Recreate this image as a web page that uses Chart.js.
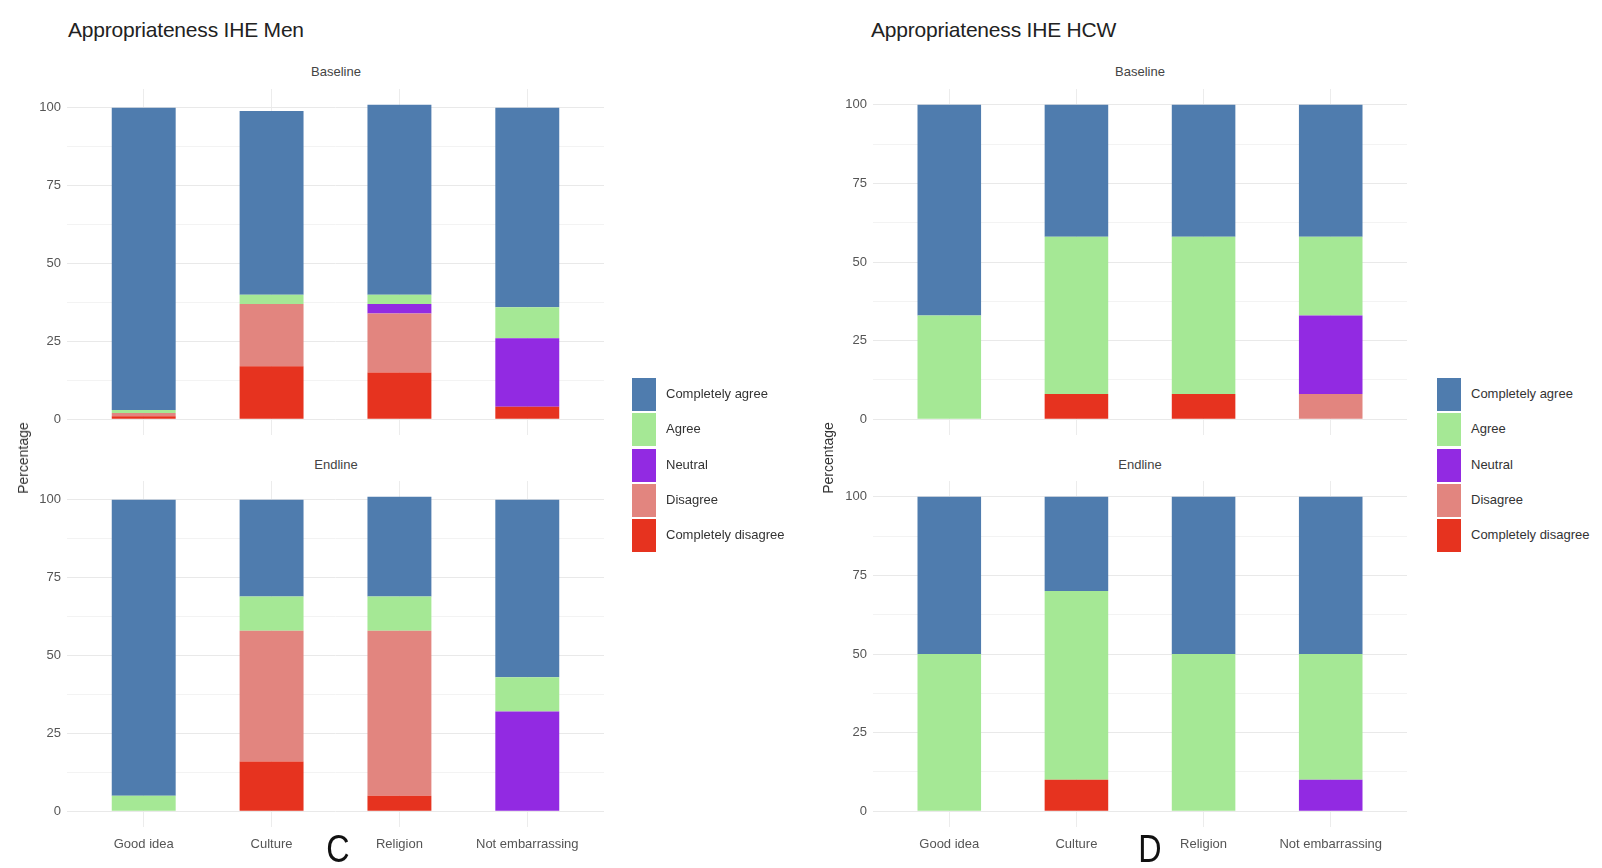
<!DOCTYPE html>
<html>
<head>
<meta charset="utf-8">
<script src="https://cdn.jsdelivr.net/npm/chart.js@4.4.1/dist/chart.umd.min.js"></script>
<style>
  body { margin:0; background:#fff; font-family:"Liberation Sans", Arial, sans-serif; }
  #page { position:relative; width:1602px; height:868px; overflow:hidden; }
  canvas { position:absolute; }
  .txt { position:absolute; white-space:nowrap; }
  .title { font-size:21px; color:#222; letter-spacing:-0.2px; }
  .strip { font-size:13px; color:#444; transform:translateX(-50%); }
  .ylab { font-size:14px; color:#333; transform:translate(-50%,-50%) rotate(-90deg); }
  .panel-tag { font-size:38px; color:#111; transform:translateX(-50%) scaleX(0.85); }
  .leg-box { position:absolute; width:24px; height:33px; }
  .leg-txt { position:absolute; font-size:13px; color:#333; }
</style>
</head>
<body>
<div id="page"></div>
<script>
// categories and levels
const categories = ['Good idea', 'Culture', 'Religion', 'Not embarrassing']
const responses = ['Completely agree', 'Agree', 'Neutral', 'Disagree', 'Completely disagree']
const responseColors = ['#4f7cae', '#a5e895', '#922ae2', '#e2857f', '#e6331f']
const yTicks = [0, 25, 50, 75, 100]

// Men - Baseline
const menBaseCompletelyAgree = [97, 59, 61, 64]
const menBaseAgree = [1, 3, 3, 10]
const menBaseNeutral = [0, 0, 3, 22]
const menBaseDisagree = [1, 20, 19, 0]
const menBaseCompletelyDisagree = [1, 17, 15, 4]

// Men - Endline
const menEndCompletelyAgree = [95, 31, 32, 57]
const menEndAgree = [5, 11, 11, 11]
const menEndNeutral = [0, 0, 0, 32]
const menEndDisagree = [0, 42, 53, 0]
const menEndCompletelyDisagree = [0, 16, 5, 0]

// HCW - Baseline
const hcwBaseCompletelyAgree = [67, 42, 42, 42]
const hcwBaseAgree = [33, 50, 50, 25]
const hcwBaseNeutral = [0, 0, 0, 25]
const hcwBaseDisagree = [0, 0, 0, 8]
const hcwBaseCompletelyDisagree = [0, 8, 8, 0]

// HCW - Endline
const hcwEndCompletelyAgree = [50, 30, 50, 50]
const hcwEndAgree = [50, 60, 50, 40]
const hcwEndNeutral = [0, 0, 0, 10]
const hcwEndDisagree = [0, 0, 0, 0]
const hcwEndCompletelyDisagree = [0, 10, 0, 0]

const page = document.getElementById('page')

function addText(cls, text, x, y) {
  const d = document.createElement('div')
  d.className = 'txt ' + cls
  d.textContent = text
  d.style.left = x + 'px'
  d.style.top = y + 'px'
  page.appendChild(d)
  return d
}

// series given in legend order (CA, A, N, D, CD); stacked from the bottom in reverse
function makePanel(series, box, showX) {
  const left = box.left
  const top = box.plotTop
  const width = box.plotRight - left
  const xh = showX ? 33 : 0
  const height = box.plotBottom - top + xh
  const c = document.createElement('canvas')
  c.width = width
  c.height = height
  c.style.left = left + 'px'
  c.style.top = top + 'px'
  c.style.width = width + 'px'
  c.style.height = height + 'px'
  page.appendChild(c)

  let maxSum = 0
  categories.forEach((_, i) => {
    let s = 0
    series.forEach(arr => s += arr[i])
    if (s > maxSum) maxSum = s
  })

  const datasets = []
  for (let k = series.length - 1; k >= 0; k--) {
    datasets.push({
      label: responses[k],
      data: series[k].map((v, i) => ({ x: i + 1, y: v })),
      backgroundColor: responseColors[k],
      borderWidth: 0,
      categoryPercentage: 1,
      barPercentage: 0.5
    })
  }

  new Chart(c, {
    type: 'bar',
    data: { datasets: datasets },
    options: {
      responsive: false,
      animation: false,
      layout: { padding: 0 },
      plugins: { legend: { display: false }, tooltip: { enabled: false } },
      scales: {
        x: {
          type: 'linear',
          stacked: true,
          offset: false,
          min: 0.4,
          max: 4.6,
          afterBuildTicks: s => { s.ticks = categories.map((_, i) => ({ value: i + 1 })) },
          afterFit: s => {
            s.height = xh
            s.paddingLeft = 0
            s.paddingRight = 0
          },
          border: { display: false },
          grid: { color: '#ececec', drawTicks: false, offset: false },
          ticks: {
            display: showX,
            padding: 10,
            color: '#555',
            font: { family: 'Liberation Sans', size: 13 },
            callback: v => categories[v - 1]
          }
        },
        y: {
          stacked: true,
          min: -0.05 * maxSum,
          max: 1.05 * maxSum,
          afterBuildTicks: s => {
            const t = []
            for (let v = 0; v <= 100; v += 12.5) t.push({ value: v })
            s.ticks = t
          },
          afterFit: s => {
            s.width = box.plotLeft - left
            s.paddingTop = 0
            s.paddingBottom = 0
          },
          border: { display: false },
          grid: {
            drawTicks: false,
            color: ctx => (ctx.tick && yTicks.includes(ctx.tick.value)) ? '#e9e9e9' : '#f3f3f3'
          },
          ticks: {
            padding: 6,
            color: '#555',
            font: { family: 'Liberation Sans', size: 13 },
            callback: v => yTicks.includes(v) ? v : ''
          }
        }
      }
    }
  })
}

function makeLegend(x, y) {
  responses.forEach((r, i) => {
    const b = document.createElement('div')
    b.className = 'leg-box'
    b.style.left = x + 'px'
    b.style.top = (y + i * 35.3) + 'px'
    b.style.background = responseColors[i]
    page.appendChild(b)
    addText('leg-txt', r, x + 34, y + i * 35.3 + 8)
  })
}

// left figure (C)
makePanel([menBaseCompletelyAgree, menBaseAgree, menBaseNeutral, menBaseDisagree, menBaseCompletelyDisagree],
  { left: 0, plotLeft: 67, plotRight: 604, plotTop: 89, plotBottom: 435 }, false)
makePanel([menEndCompletelyAgree, menEndAgree, menEndNeutral, menEndDisagree, menEndCompletelyDisagree],
  { left: 0, plotLeft: 67, plotRight: 604, plotTop: 481, plotBottom: 827 }, true)

// right figure (D)
makePanel([hcwBaseCompletelyAgree, hcwBaseAgree, hcwBaseNeutral, hcwBaseDisagree, hcwBaseCompletelyDisagree],
  { left: 806, plotLeft: 873, plotRight: 1407, plotTop: 89, plotBottom: 435 }, false)
makePanel([hcwEndCompletelyAgree, hcwEndAgree, hcwEndNeutral, hcwEndDisagree, hcwEndCompletelyDisagree],
  { left: 806, plotLeft: 873, plotRight: 1407, plotTop: 481, plotBottom: 827 }, true)

// titles, strips, axis labels
addText('title', 'Appropriateness IHE Men', 68, 18)
addText('title', 'Appropriateness IHE HCW', 871, 18)
addText('strip', 'Baseline', 336, 64)
addText('strip', 'Endline', 336, 457)
addText('strip', 'Baseline', 1140, 64)
addText('strip', 'Endline', 1140, 457)
addText('ylab', 'Percentage', 23, 458)
addText('ylab', 'Percentage', 828, 458)
addText('panel-tag', 'C', 338, 828)
addText('panel-tag', 'D', 1150, 828)

makeLegend(632, 378)
makeLegend(1437, 378)
</script>
</body>
</html>
